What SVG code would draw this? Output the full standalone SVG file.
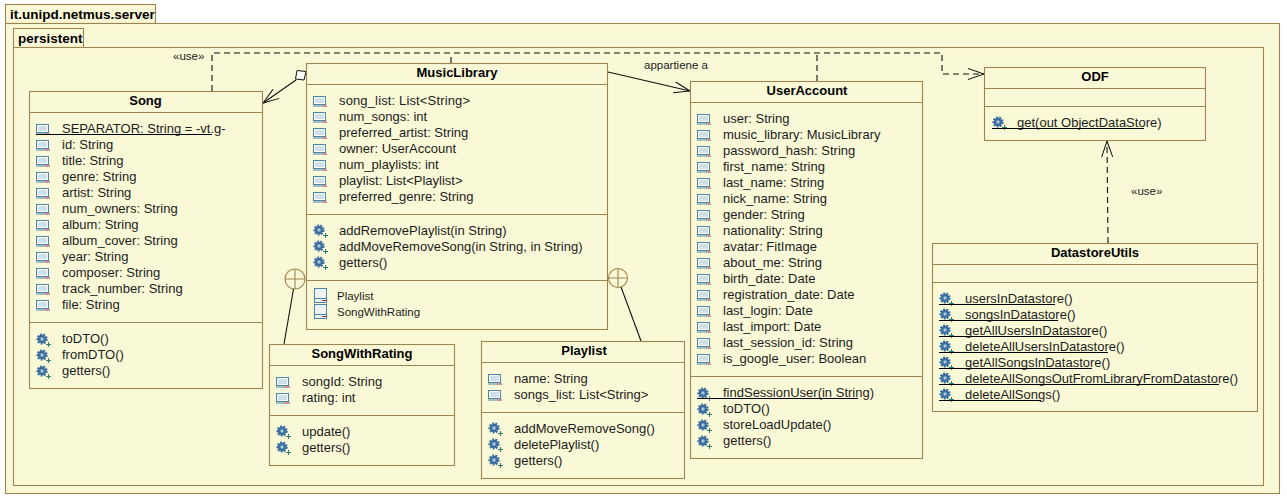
<svg xmlns="http://www.w3.org/2000/svg" width="1287" height="499" viewBox="0 0 1287 499">
<style>
text{font-family:"Liberation Sans",Arial,sans-serif;font-size:13px;fill:#1c1c1c}
.b{fill:#faf9d7;stroke:#9c8550;stroke-width:1.1}
.d{stroke:#9c8550;stroke-width:1.1;fill:none}
.t{font-weight:bold;text-anchor:middle;font-size:13px;fill:#000}
.p{font-weight:bold;font-size:13.5px;fill:#000}
.l{font-size:11.5px}
.u{stroke:#000;stroke-width:1;fill:none}
.c{stroke:#111;stroke-width:1.1;fill:none}
.da{stroke-dasharray:6 4}
</style>
<defs>
<g id="a"><rect x="0.500" y="-4.500" width="12" height="8" fill="#fafcf0" stroke="#4f86a8"/><rect x="2" y="-3" width="9" height="5" fill="#cfe0ea"/><line x1="0" y1="5" x2="9" y2="5" stroke="#4f86a8"/><line x1="9" y1="5" x2="14" y2="5" stroke="#a03060"/></g>
<g id="o"><circle cx="6" cy="0" r="4.300" fill="#3c6f9f" stroke="#3c6f9f" stroke-width="2.600" stroke-dasharray="1.800 1.200"/><circle cx="6" cy="0" r="1.700" fill="#a9c6dd"/><path d="M10 5.500h5M12.500 3v5" stroke="#2f7a6a" stroke-width="1"/></g>
<g id="n"><rect x="0.500" y="-7.500" width="12" height="14" fill="#eaf2f4" stroke="#4f86a8"/><line x1="0.500" y1="2.500" x2="12.500" y2="2.500" stroke="#4f86a8"/><line x1="8" y1="4.500" x2="13" y2="4.500" stroke="#a03060"/></g>
<marker id="v" viewBox="0 0 18 14" refX="17" refY="7" markerWidth="18" markerHeight="14" markerUnits="userSpaceOnUse" orient="auto"><path d="M1 1.500L17 7L1 12.500" fill="none" stroke="#111" stroke-width="1"/></marker>
</defs>
<g id="pkg-server"><rect class="b" x="5.500" y="4.500" width="150" height="19"/><rect class="b" x="5.500" y="23.500" width="1274" height="470"/><text class="p" x="10" y="19">it.unipd.netmus.server</text></g>
<g id="pkg-persistent"><rect class="b" x="13.500" y="28.500" width="70" height="19"/><rect class="b" x="13.500" y="47.500" width="1250" height="438"/><text class="p" x="18" y="43">persistent</text></g>

<g id="connectors">
<path class="c da" d="M212 91V53H942V74H984" marker-end="url(#v)"/>
<path class="c da" d="M451 63V53"/>
<path class="c da" d="M817 81V53"/>
<path class="c da" d="M1108 243L1107 141" marker-end="url(#v)"/>
<path class="c" d="M608 72L690 91" marker-end="url(#v)"/>
<path class="c" d="M296 80L263 103" marker-end="url(#v)"/>
<path d="M297 70.500L306 71.500L304 80L295.500 79Z" fill="#fff" stroke="#111" stroke-width="1"/>
<circle cx="295" cy="279" r="10" fill="#faf9d7" stroke="#9c8550" stroke-width="1.100"/><path class="d" d="M285 279H305M295 269V289"/>
<path class="c" d="M293.500 289L284 344"/>
<circle cx="618" cy="278" r="9.500" fill="#faf9d7" stroke="#9c8550" stroke-width="1.100"/><path class="d" d="M608.500 278H627.500M618 268.500V287.500"/>
<path class="c" d="M621 287L641 341"/>
<text class="l" x="173" y="60">«use»</text>
<text class="l" x="644" y="69">appartiene a</text>
<text class="l" x="1131" y="195">«use»</text>
</g>

<g id="Song">
<rect class="b" x="29.500" y="91.500" width="233" height="297"/><path class="d" d="M29.500 112.500H262.500M29.500 322.500H262.500"/>
<text class="t" x="145.500" y="105">Song</text>
<use href="#a" x="36" y="129"/><text x="62" y="133">SEPARATOR: String = -vt.g-</text><line class="u" x1="36" y1="134.500" x2="212" y2="134.500"/>
<use href="#a" x="36" y="145"/><text x="62" y="149">id: String</text>
<use href="#a" x="36" y="161"/><text x="62" y="165">title: String</text>
<use href="#a" x="36" y="177"/><text x="62" y="181">genre: String</text>
<use href="#a" x="36" y="193"/><text x="62" y="197">artist: String</text>
<use href="#a" x="36" y="209"/><text x="62" y="213">num_owners: String</text>
<use href="#a" x="36" y="225"/><text x="62" y="229">album: String</text>
<use href="#a" x="36" y="241"/><text x="62" y="245">album_cover: String</text>
<use href="#a" x="36" y="257"/><text x="62" y="261">year: String</text>
<use href="#a" x="36" y="273"/><text x="62" y="277">composer: String</text>
<use href="#a" x="36" y="289"/><text x="62" y="293">track_number: String</text>
<use href="#a" x="36" y="305"/><text x="62" y="309">file: String</text>
<use href="#o" x="36" y="339"/><text x="62" y="343">toDTO()</text>
<use href="#o" x="36" y="355"/><text x="62" y="359">fromDTO()</text>
<use href="#o" x="36" y="371"/><text x="62" y="375">getters()</text>
</g>

<g id="MusicLibrary">
<rect class="b" x="306.500" y="63.500" width="301" height="266"/><path class="d" d="M306.500 84.500H607.500M306.500 214.500H607.500M306.500 280.500H607.500"/>
<text class="t" x="457" y="77">MusicLibrary</text>
<use href="#a" x="313" y="101"/><text x="339" y="105" textLength="131">song_list: List&lt;String&gt;</text>
<use href="#a" x="313" y="117"/><text x="339" y="121">num_songs: int</text>
<use href="#a" x="313" y="133"/><text x="339" y="137">preferred_artist: String</text>
<use href="#a" x="313" y="149"/><text x="339" y="153">owner: UserAccount</text>
<use href="#a" x="313" y="165"/><text x="339" y="169">num_playlists: int</text>
<use href="#a" x="313" y="181"/><text x="339" y="185">playlist: List&lt;Playlist&gt;</text>
<use href="#a" x="313" y="197"/><text x="339" y="201">preferred_genre: String</text>
<use href="#o" x="313" y="230"/><text x="339" y="235">addRemovePlaylist(in String)</text>
<use href="#o" x="313" y="246"/><text x="339" y="251">addMoveRemoveSong(in String, in String)</text>
<use href="#o" x="313" y="262"/><text x="339" y="267">getters()</text>
<use href="#n" x="314" y="296"/><text class="l" x="337" y="300">Playlist</text>
<use href="#n" x="314" y="312"/><text class="l" x="337" y="316">SongWithRating</text>
</g>

<g id="UserAccount">
<rect class="b" x="690.500" y="81.500" width="232" height="377"/><path class="d" d="M690.500 102.500H922.500M690.500 376.500H922.500"/>
<text class="t" x="807" y="95">UserAccount</text>
<use href="#a" x="697" y="119"/><text x="723" y="123">user: String</text>
<use href="#a" x="697" y="135"/><text x="723" y="139">music_library: MusicLibrary</text>
<use href="#a" x="697" y="151"/><text x="723" y="155">password_hash: String</text>
<use href="#a" x="697" y="167"/><text x="723" y="171">first_name: String</text>
<use href="#a" x="697" y="183"/><text x="723" y="187">last_name: String</text>
<use href="#a" x="697" y="199"/><text x="723" y="203">nick_name: String</text>
<use href="#a" x="697" y="215"/><text x="723" y="219">gender: String</text>
<use href="#a" x="697" y="231"/><text x="723" y="235">nationality: String</text>
<use href="#a" x="697" y="247"/><text x="723" y="251">avatar: FitImage</text>
<use href="#a" x="697" y="263"/><text x="723" y="267">about_me: String</text>
<use href="#a" x="697" y="279"/><text x="723" y="283">birth_date: Date</text>
<use href="#a" x="697" y="295"/><text x="723" y="299">registration_date: Date</text>
<use href="#a" x="697" y="311"/><text x="723" y="315">last_login: Date</text>
<use href="#a" x="697" y="327"/><text x="723" y="331">last_import: Date</text>
<use href="#a" x="697" y="343"/><text x="723" y="347">last_session_id: String</text>
<use href="#a" x="697" y="359"/><text x="723" y="363">is_google_user: Boolean</text>
<use href="#o" x="697" y="393"/><text x="723" y="397">findSessionUser(in String)</text><line class="u" x1="697" y1="398.500" x2="858" y2="398.500"/>
<use href="#o" x="697" y="409"/><text x="723" y="413">toDTO()</text>
<use href="#o" x="697" y="425"/><text x="723" y="429">storeLoadUpdate()</text>
<use href="#o" x="697" y="441"/><text x="723" y="445">getters()</text>
</g>

<g id="ODF">
<rect class="b" x="984.500" y="67.500" width="221" height="73"/><path class="d" d="M984.500 88.500H1205.500M984.500 106.500H1205.500"/>
<text class="t" x="1095" y="81">ODF</text>
<use href="#o" x="992" y="122"/><text x="1017" y="127">get(out ObjectDataStore)</text><line class="u" x1="992" y1="128.500" x2="1144" y2="128.500"/>
</g>

<g id="DatastoreUtils">
<rect class="b" x="932.500" y="243.500" width="325" height="168"/><path class="d" d="M932.500 264.500H1257.500M932.500 282.500H1257.500"/>
<text class="t" x="1095" y="257">DatastoreUtils</text>
<use href="#o" x="939" y="298"/><text x="965" y="303">usersInDatastore()</text><line class="u" x1="939" y1="304.500" x2="1055" y2="304.500"/>
<use href="#o" x="939" y="314"/><text x="965" y="319">songsInDatastore()</text><line class="u" x1="939" y1="320.500" x2="1058" y2="320.500"/>
<use href="#o" x="939" y="330"/><text x="965" y="335">getAllUsersInDatastore()</text><line class="u" x1="939" y1="336.500" x2="1091" y2="336.500"/>
<use href="#o" x="939" y="346"/><text x="965" y="351">deleteAllUsersInDatastore()</text><line class="u" x1="939" y1="352.500" x2="1108" y2="352.500"/>
<use href="#o" x="939" y="362"/><text x="965" y="367">getAllSongsInDatastore()</text><line class="u" x1="939" y1="368.500" x2="1092" y2="368.500"/>
<use href="#o" x="939" y="378"/><text x="965" y="383">deleteAllSongsOutFromLibraryFromDatastore()</text><line class="u" x1="939" y1="384.500" x2="1219" y2="384.500"/>
<use href="#o" x="939" y="394"/><text x="965" y="399">deleteAllSongs()</text><line class="u" x1="939" y1="400.500" x2="1041" y2="400.500"/>
</g>

<g id="SongWithRating">
<rect class="b" x="269.500" y="344.500" width="185" height="121"/><path class="d" d="M269.500 365.500H454.500M269.500 415.500H454.500"/>
<text class="t" x="362" y="358">SongWithRating</text>
<use href="#a" x="276" y="382"/><text x="302" y="386">songId: String</text>
<use href="#a" x="276" y="398"/><text x="302" y="402">rating: int</text>
<use href="#o" x="276" y="431"/><text x="302" y="436">update()</text>
<use href="#o" x="276" y="447"/><text x="302" y="452">getters()</text>
</g>

<g id="Playlist">
<rect class="b" x="481.500" y="341.500" width="203" height="137"/><path class="d" d="M481.500 362.500H684.500M481.500 412.500H684.500"/>
<text class="t" x="584" y="355">Playlist</text>
<use href="#a" x="488" y="379"/><text x="514" y="383">name: String</text>
<use href="#a" x="488" y="395"/><text x="514" y="399">songs_list: List&lt;String&gt;</text>
<use href="#o" x="488" y="428"/><text x="514" y="433">addMoveRemoveSong()</text>
<use href="#o" x="488" y="444"/><text x="514" y="449">deletePlaylist()</text>
<use href="#o" x="488" y="460"/><text x="514" y="465">getters()</text>
</g>
</svg>
